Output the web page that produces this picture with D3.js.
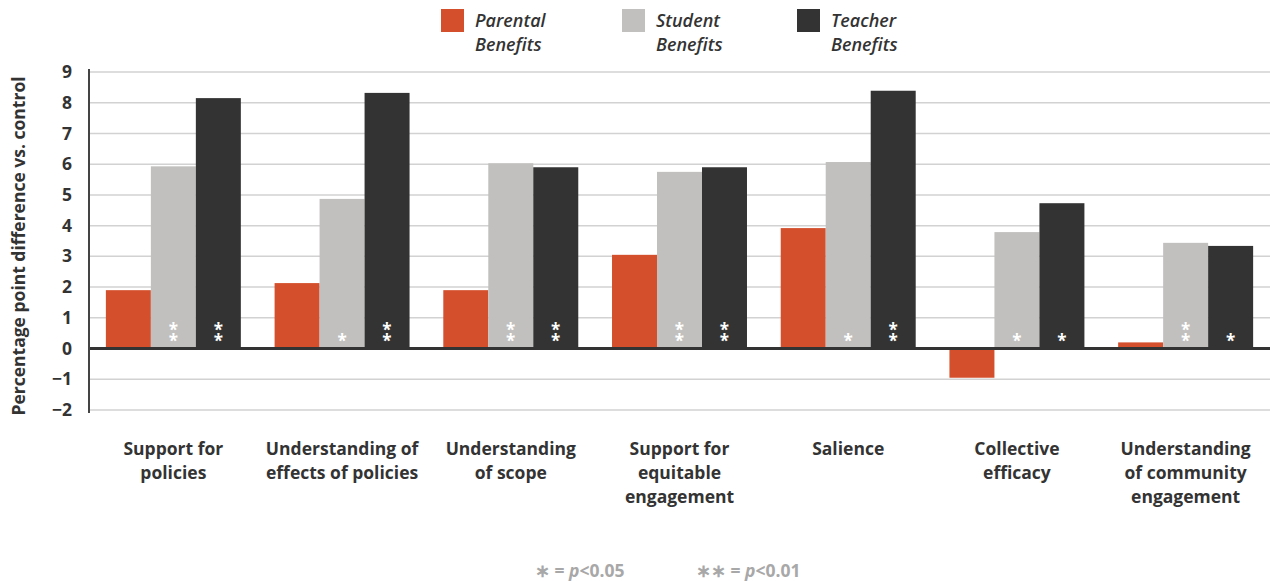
<!DOCTYPE html>
<html>
<head>
<meta charset="utf-8">
<script src="https://cdn.jsdelivr.net/npm/d3@7"></script>
<style>
  body { margin: 0; background: #fff; }
  svg { display: block; font-family: "Open Sans", sans-serif; }
  .stars { writing-mode: vertical-rl; text-orientation: upright; }
</style>
</head>
<body>
<div id="chart"></div>
<script>
// data
var categories = [
  ["Support for", "policies"],
  ["Understanding of", "effects of policies"],
  ["Understanding", "of scope"],
  ["Support for", "equitable", "engagement"],
  ["Salience"],
  ["Collective", "efficacy"],
  ["Understanding", "of community", "engagement"]
];
var seriesNames = ["Parental", "Student", "Teacher"];
var parental = [1.9, 2.13, 1.9, 3.05, 3.92, -0.95, 0.2];
var student  = [5.93, 4.87, 6.03, 5.75, 6.07, 3.79, 3.44];
var teacher  = [8.15, 8.32, 5.9, 5.9, 8.39, 4.73, 3.34];
// significance stars (student, teacher)
var starsStudent = [2, 1, 2, 2, 1, 1, 2];
var starsTeacher = [2, 2, 2, 2, 2, 1, 1];
var yTicks = [-2, -1, 0, 1, 2, 3, 4, 5, 6, 7, 8, 9];

var colors = ["#d44f2b", "#c1c0be", "#333333"];
var W = 1270, H = 581;

var svg = d3.select("#chart").append("svg")
    .attr("width", W).attr("height", H);

var x0 = d3.scaleBand()
    .domain(d3.range(categories.length))
    .range([89, 1270])
    .paddingInner(0.2)
    .paddingOuter(0.1);
var x1 = d3.scaleBand()
    .domain(d3.range(3))
    .range([0, x0.bandwidth()]);
var y = d3.scaleLinear()
    .domain([-2, 9])
    .range([410, 72]);

// gridlines
svg.append("g").selectAll("line")
    .data(yTicks.filter(function(d) { return d !== 0; }))
    .join("line")
    .attr("x1", 89).attr("x2", W)
    .attr("y1", function(d) { return y(d); })
    .attr("y2", function(d) { return y(d); })
    .attr("stroke", "#d2d2d2")
    .attr("stroke-width", 1.5);

// y axis labels
var yAxis = d3.axisLeft(y).tickValues(yTicks).tickSize(0).tickPadding(17);
var gY = svg.append("g").attr("transform", "translate(89,0)").call(yAxis);
gY.select(".domain").remove();
gY.selectAll("text")
    .attr("font-size", 17.5).attr("font-weight", 700)
    .attr("fill", "#333").attr("font-family", "Open Sans, sans-serif");

// bars
var series = [parental, student, teacher];
var groups = svg.append("g").selectAll("g")
    .data(categories)
    .join("g")
    .attr("transform", function(d, i) { return "translate(" + x0(i) + ",0)"; });

groups.selectAll("rect")
    .data(function(d, i) { return series.map(function(s, k) { return { k: k, v: s[i] }; }); })
    .join("rect")
    .attr("x", function(d) { return x1(d.k); })
    .attr("width", x1.bandwidth())
    .attr("y", function(d) { return y(Math.max(0, d.v)); })
    .attr("height", function(d) { return Math.abs(y(d.v) - y(0)); })
    .attr("fill", function(d) { return colors[d.k]; });

// significance asterisks, stacked vertically in one text
groups.each(function(d, i) {
  var g = d3.select(this);
  [[1, starsStudent[i]], [2, starsTeacher[i]]].forEach(function(p) {
    var cx = x1(p[0]) + x1.bandwidth() / 2;
    g.append("text")
      .attr("class", "stars")
      .attr("x", cx)
      .attr("y", 340)
      .attr("text-anchor", "end")
      .attr("font-size", 17).attr("font-weight", 700)
      .attr("letter-spacing", -12)
      .attr("fill", "#fff")
      .text(p[1] === 2 ? "**" : "*");
  });
});

// zero line and y axis line
svg.append("line")
    .attr("x1", 89).attr("x2", W)
    .attr("y1", y(0)).attr("y2", y(0))
    .attr("stroke", "#333").attr("stroke-width", 3);
svg.append("line")
    .attr("x1", 89).attr("x2", 89)
    .attr("y1", 69).attr("y2", 413)
    .attr("stroke", "#444").attr("stroke-width", 2);

// category labels
groups.append("text")
    .attr("x", x0.bandwidth() / 2)
    .attr("y", 455)
    .attr("text-anchor", "middle")
    .attr("font-size", 17.5).attr("font-weight", 700)
    .attr("fill", "#333")
    .selectAll("tspan")
    .data(function(d) { return d; })
    .join("tspan")
    .attr("x", x0.bandwidth() / 2)
    .attr("dy", function(d, i) { return i === 0 ? 0 : 24; })
    .text(function(d) { return d; });

// y title
svg.append("text")
    .attr("transform", "translate(25,246) rotate(-90)")
    .attr("text-anchor", "middle")
    .attr("font-size", 17.5).attr("font-weight", 700)
    .attr("fill", "#333")
    .text("Percentage point difference vs. control");

// legend
var legendX = [441, 622, 797];
var legend = svg.append("g").selectAll("g")
    .data(seriesNames)
    .join("g")
    .attr("transform", function(d, i) { return "translate(" + legendX[i] + ",9)"; });
legend.append("rect")
    .attr("width", 23).attr("height", 23)
    .attr("fill", function(d, i) { return colors[i]; });
legend.append("text")
    .attr("x", 34).attr("y", 18)
    .attr("font-size", 18).attr("font-style", "italic").attr("font-weight", 600)
    .attr("fill", "#333")
    .selectAll("tspan")
    .data(function(d) { return [d, "Benefits"]; })
    .join("tspan")
    .attr("x", 34)
    .attr("dy", function(d, i) { return i === 0 ? 0 : 24; })
    .text(function(d) { return d; });

// footnote
var foot = svg.append("g")
    .attr("font-size", 17.5).attr("font-weight", 700).attr("fill", "#a8a8a8");
var f1 = foot.append("text").attr("x", 535).attr("y", 577);
f1.append("tspan").text("\u2217 = ");
f1.append("tspan").attr("font-style", "italic").text("p");
f1.append("tspan").text("<0.05");
var f2 = foot.append("text").attr("x", 696).attr("y", 577);
f2.append("tspan").text("\u2217\u2217 =  ");
f2.append("tspan").attr("font-style", "italic").text("p");
f2.append("tspan").text("<0.01");
</script>
</body>
</html>
